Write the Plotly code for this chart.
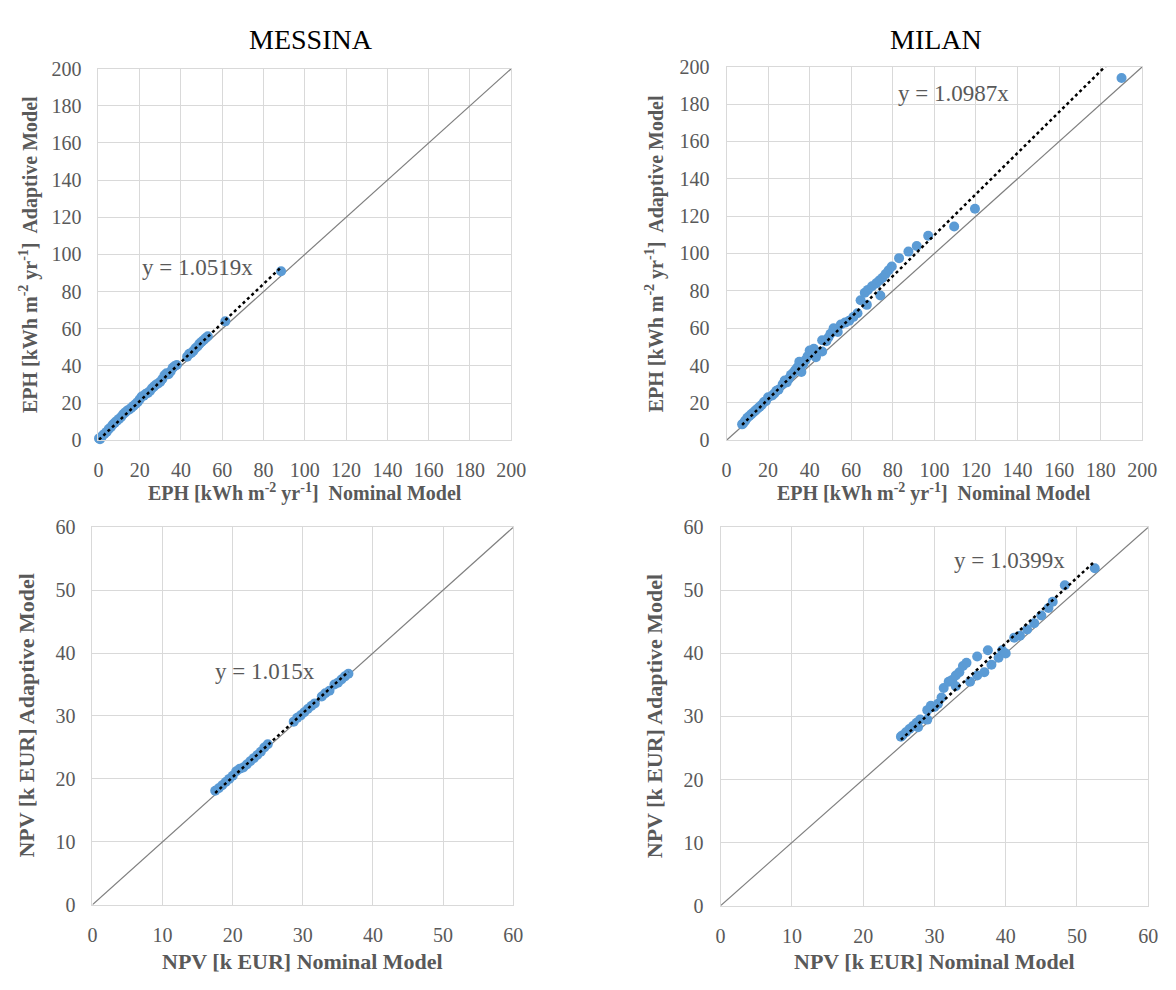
import plotly.graph_objects as go

# ---------------- data ----------------
CITIES = ["MESSINA", "MILAN"]

messina_eph_nominal = [0.3, 0.8, 1.2, 2, 3, 4, 5, 6, 7, 8, 9, 10, 11, 12, 13, 14, 15, 16, 17, 18, 19, 20,
                       21, 22, 23, 24, 25, 26, 27, 28, 29, 30, 31, 32, 33, 34, 35, 36, 37, 38,
                       43, 44, 45, 46, 47, 48, 49, 50, 51, 52, 53, 61.5, 88.5]
messina_eph_adaptive = [1.0, 0.5, 1.5, 2.5, 3.5, 4.5, 6, 7, 8.5, 9.5, 10.5, 11.5, 12.5, 14, 15, 16, 16.5, 17.5,
                        18.5, 19.5, 20.5, 22, 23.5, 24, 25, 25.5, 26.5, 28, 29, 30, 30.5, 31.5, 33, 35, 36,
                        35.5, 37, 39, 40, 40.5, 45, 46.5, 47, 48, 49.5, 50.5, 52, 53, 54, 55, 56, 64, 91]

milan_eph_nominal = [7.5, 8, 9, 10, 11, 12, 13, 14, 15, 16, 17, 18, 19, 20, 22, 23, 24, 25, 27, 28, 29, 30,
                     31, 32, 33, 34, 35, 36, 36, 37, 38, 39, 40, 42, 43, 46, 46, 48, 49, 50, 51.5, 53.5,
                     55, 57, 59, 61, 63, 64.5, 66.5, 67.5, 68, 70, 72, 73.5, 74, 75, 76.5, 78, 79.5, 83,
                     87.5, 91.5, 97, 109.5, 119.5, 190]
milan_eph_adaptive = [8.5, 9, 10.5, 12, 13, 14, 15, 16, 17, 18, 19, 20.5, 21, 23, 24, 25, 26.5, 27, 30, 32,
                      31, 33, 35, 36, 37.5, 39, 42, 40, 36.5, 41, 43, 45, 48, 49, 44.5, 53.5, 47.5, 53,
                      55, 57, 60, 58, 62, 63, 64, 66, 68, 75, 79, 72.5, 80.5, 82.5, 84, 85.5, 77.5, 87,
                      89, 91, 93, 97.5, 101, 104, 109.5, 114.5, 124, 194]

messina_npv_nominal = [17.5, 18, 18.5, 19, 19.5, 20, 20.5, 21, 21.5, 22, 22.5, 23, 23.5, 24, 24.5, 25,
                       28.7, 29.2, 29.7, 30.2, 30.7, 31.2, 31.7, 32.7, 33.2, 33.8, 34.5, 35, 35.5, 36, 36.5]
messina_npv_adaptive = [18.1, 18.5, 19, 19.5, 20, 20.5, 21.2, 21.6, 21.8, 22.3, 22.8, 23.3, 23.8, 24.3, 25,
                        25.5, 29.1, 29.7, 30.1, 30.6, 31.1, 31.6, 32, 33.1, 33.6, 34, 35, 35.3, 35.8,
                        36.3, 36.7]

milan_npv_nominal = [25.3, 25.5, 26, 26.5, 27, 27.5, 28, 27.7, 29, 29, 29.5, 30, 30.5, 31, 31.3, 32, 32.5,
                     33, 33, 33.5, 34, 34.5, 36, 37.5, 35, 36, 37, 38, 39, 39.5, 40, 41.2, 42, 43, 44,
                     45, 46, 46.6, 48.3, 52.5]
milan_npv_adaptive = [26.8, 27, 27.5, 28, 28.5, 29, 29.5, 28.3, 29.5, 31, 31.7, 31.5, 32, 33, 34.5, 35.5,
                      35.8, 36.5, 34.8, 37, 38, 38.5, 39.5, 40.5, 35.5, 36.5, 37, 38.2, 39.3, 40.5, 40,
                      42.5, 42.8, 43.8, 44.8, 46, 47.2, 48.2, 50.8, 53.5]

TREND_SLOPES = [1.0519, 1.0987, 1.015, 1.0399]
TREND_LABELS = ["y = 1.0519x", "y = 1.0987x", "y = 1.015x", "y = 1.0399x"]
LABEL_POS = [(48, 93), (109, 185.5), (24.6, 37.1), (40.5, 54.8)]

AXIS_MAX = [200, 200, 60, 60]
AXIS_DTICK = [20, 20, 10, 10]

X_TITLES = ["EPH [kWh m<sup>-2</sup> yr<sup>-1</sup>]  Nominal Model"] * 2 + ["NPV [k EUR] Nominal Model"] * 2
Y_TITLES = ["EPH [kWh m<sup>-2</sup> yr<sup>-1</sup>]  Adaptive Model"] * 2 + ["NPV [k EUR] Adaptive Model"] * 2

panels = [
    (messina_eph_nominal, messina_eph_adaptive),
    (milan_eph_nominal, milan_eph_adaptive),
    (messina_npv_nominal, messina_npv_adaptive),
    (milan_npv_nominal, milan_npv_adaptive),
]

# ---------------- layout geometry (pixels) ----------------
W, H = 1176, 990
# (left, top, right, bottom)
BOXES = [(95, 59, 515, 439), (734, 57, 1157, 439), (89, 528, 517, 914), (728, 528, 1163, 915)]
YTITLE_X = [24, 661, 22, 661]
XTITLE_Y = [492, 492, 972, 972]
TITLE_X = [311, 947]

SERIF = "Liberation Serif, Times New Roman, serif"
GREY_TXT = "#595959"
GRID = "#d9d9d9"
BLUE = "#5b9bd5"

fig = go.Figure()
annotations = []

for i, (xs, ys) in enumerate(panels):
    l, t, r, b = BOXES[i]
    suffix = "" if i == 0 else str(i + 1)
    xa, ya = "x" + suffix, "y" + suffix
    amax = AXIS_MAX[i]

    # 1:1 reference line
    fig.add_trace(go.Scatter(x=[0, amax], y=[0, amax], mode="lines",
                             line=dict(color="#7f7f7f", width=1.2),
                             xaxis=xa, yaxis=ya, showlegend=False, hoverinfo="skip"))
    # data
    fig.add_trace(go.Scatter(x=xs, y=ys, mode="markers",
                             marker=dict(color=BLUE, size=10, line=dict(width=0)),
                             xaxis=xa, yaxis=ya, showlegend=False, cliponaxis=False))
    # linear trend through origin
    x0, x1 = min(xs), max(xs)
    k = TREND_SLOPES[i]
    fig.add_trace(go.Scatter(x=[x0, x1], y=[k * x0, k * x1], mode="lines",
                             line=dict(color="black", width=2.5, dash="dot"),
                             xaxis=xa, yaxis=ya, showlegend=False, hoverinfo="skip"))

    axcommon = dict(range=[0, amax], dtick=AXIS_DTICK[i], tick0=0, showgrid=True, gridcolor=GRID,
                    gridwidth=1, showline=True, mirror=True, linecolor=GRID, linewidth=1,
                    zeroline=False, ticks="", ticklabelstandoff=12,
                    tickfont=dict(family=SERIF, size=20, color=GREY_TXT), fixedrange=True)
    fig.layout["xaxis" + suffix] = dict(axcommon, domain=[l / W, r / W], anchor=ya)
    fig.layout["yaxis" + suffix] = dict(axcommon, domain=[1 - b / H, 1 - t / H], anchor=xa)

    # trend label
    lx, ly = LABEL_POS[i]
    annotations.append(dict(x=lx, y=ly, xref=xa, yref=ya, text=TREND_LABELS[i], showarrow=False,
                            font=dict(family=SERIF, size=23, color=GREY_TXT),
                            xanchor="center", yanchor="middle"))
    # axis titles
    annotations.append(dict(x=(l + r) / 2 / W, y=1 - XTITLE_Y[i] / H, xref="paper", yref="paper",
                            text="<b>" + X_TITLES[i] + "</b>", showarrow=False,
                            font=dict(family=SERIF, size=20 if i < 2 else 22, color=GREY_TXT),
                            xanchor="center", yanchor="middle"))
    annotations.append(dict(x=YTITLE_X[i] / W, y=1 - (t + b) / 2 / H, xref="paper", yref="paper",
                            text="<b>" + Y_TITLES[i] + "</b>", showarrow=False, textangle=-90,
                            font=dict(family=SERIF, size=20 if i < 2 else 22, color=GREY_TXT),
                            xanchor="center", yanchor="middle"))

# city titles
for j, city in enumerate(CITIES):
    annotations.append(dict(x=TITLE_X[j] / W, y=1 - 29 / H, xref="paper", yref="paper",
                            text=city, showarrow=False,
                            font=dict(family=SERIF, size=28, color="black"),
                            xanchor="center", yanchor="middle"))

fig.update_layout(width=W, height=H, autosize=False, margin=dict(l=0, r=0, t=0, b=0),
                  paper_bgcolor="white", plot_bgcolor="white", annotations=annotations,
                  showlegend=False)

fig.write_html("out.html", config={"displayModeBar": False},
               post_script="document.body.style.margin='0px';")
